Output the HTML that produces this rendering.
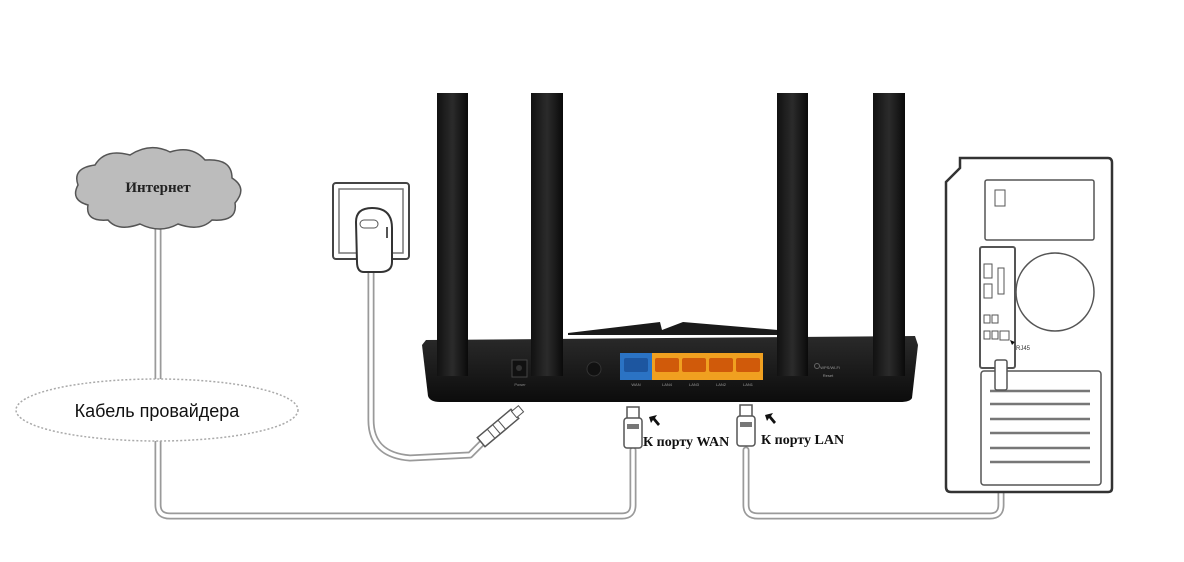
<!DOCTYPE html>
<html><head><meta charset="utf-8"><style>
html,body{margin:0;padding:0;background:#fff;width:1184px;height:562px;overflow:hidden}
</style></head><body>
<svg width="1184" height="562" viewBox="0 0 1184 562" xmlns="http://www.w3.org/2000/svg">
<defs>
<linearGradient id="rb" x1="0" y1="0" x2="0" y2="1"><stop offset="0" stop-color="#2a2a2a"/><stop offset="1" stop-color="#0c0c0c"/></linearGradient>
<linearGradient id="ant" x1="0" y1="0" x2="1" y2="0"><stop offset="0" stop-color="#111"/><stop offset="0.5" stop-color="#2b2b2b"/><stop offset="1" stop-color="#0a0a0a"/></linearGradient>
</defs>
<!-- cables (gray outer, white inner) -->
<g fill="none" stroke-linecap="round" stroke-linejoin="round">
<g stroke="#9a9a9a" stroke-width="7">
<path d="M158 222 V378"/>
<path d="M158 442 V505 Q158 516 170 516 H622 Q633 516 633 505 V450"/>
<path d="M746 450 V505 Q746 516 758 516 H990 Q1001 516 1001 505 V380"/>
<path d="M371 272 V420 Q371 455 410 458 L470 455 L485 440"/>
</g>
<g stroke="#fff" stroke-width="3.5">
<path d="M158 222 V378"/>
<path d="M158 442 V505 Q158 516 170 516 H622 Q633 516 633 505 V450"/>
<path d="M746 450 V505 Q746 516 758 516 H990 Q1001 516 1001 505 V380"/>
<path d="M371 272 V420 Q371 455 410 458 L470 455 L485 440"/>
</g>
</g>
<!-- cloud -->
<path d="M88 205 Q70 200 78 185 Q72 168 95 165 Q105 148 130 155 Q150 142 170 152 Q192 145 205 160 Q232 158 232 178 Q248 188 235 203 Q238 222 212 220 Q200 232 178 224 Q160 234 140 224 Q118 232 108 220 Q85 222 88 205 Z" fill="#bcbcbc" stroke="#555" stroke-width="1.5"/>
<text x="158" y="192" font-family="Liberation Serif, serif" font-weight="bold" font-size="15" text-anchor="middle" fill="#222">Интернет</text>
<!-- dotted ellipse -->
<ellipse cx="157" cy="410" rx="141" ry="31" fill="#fff" stroke="#aaa" stroke-width="1.5" stroke-dasharray="2 2"/>
<text x="157" y="417" font-family="Liberation Sans, sans-serif" font-size="18" text-anchor="middle" fill="#111">Кабель провайдера</text>
<!-- outlet -->
<rect x="333" y="183" width="76" height="76" rx="3" fill="#fff" stroke="#444" stroke-width="2"/>
<rect x="339" y="189" width="64" height="64" fill="#fff" stroke="#777" stroke-width="1.5"/>
<path d="M356 222 Q356 208 372 208 Q392 208 392 228 V262 Q392 272 380 272 H364 Q357 272 357 262 Z" fill="#fff" stroke="#333" stroke-width="2"/>
<rect x="360" y="220" width="18" height="8" rx="4" fill="none" stroke="#555"/>
<path d="M387 227 V238" stroke="#555" stroke-width="2"/>
<!-- power plug -->
<g transform="translate(498 428) rotate(50)">
<rect x="-6" y="-22" width="12" height="44" fill="#fff" stroke="#555" stroke-width="1.5"/>
<path d="M-6 -5 H6 M-6 2 H6 M-6 9 H6" stroke="#555"/>
<rect x="-4" y="-30" width="8" height="9" fill="#fff" stroke="#555"/>
</g>
<!-- router antennas -->
<rect x="437" y="93" width="31" height="280" fill="url(#ant)"/>
<rect x="531" y="93" width="32" height="280" fill="url(#ant)"/>
<rect x="777" y="93" width="31" height="280" fill="url(#ant)"/>
<rect x="873" y="93" width="32" height="280" fill="url(#ant)"/>
<!-- router body -->
<path d="M568 333 L660 322 L662 330 L683 322 L778 330 L778 335 L568 335 Z" fill="#1a1a1a"/>
<path d="M426 340 L915 336 L918 345 L912 398 Q910 402 900 402 H440 Q430 402 428 396 L422 345 Z" fill="url(#rb)"/>
<rect x="437" y="320" width="31" height="56" fill="url(#ant)"/>
<rect x="531" y="320" width="32" height="56" fill="url(#ant)"/>
<rect x="777" y="320" width="31" height="56" fill="url(#ant)"/>
<rect x="873" y="320" width="32" height="56" fill="url(#ant)"/>
<rect x="512" y="360" width="15" height="17" fill="#111" stroke="#444"/>
<circle cx="519" cy="368" r="3" fill="#333"/>
<text x="520" y="386" font-size="4" fill="#888" text-anchor="middle" font-family="Liberation Sans">Power</text>
<circle cx="594" cy="369" r="7" fill="#111" stroke="#333"/>
<rect x="620" y="353" width="32" height="27" fill="#2b73c4"/>
<rect x="652" y="353" width="111" height="27" fill="#f0a020"/>
<g fill="#d05a0a">
<rect x="655" y="358" width="24" height="14" rx="2"/>
<rect x="682" y="358" width="24" height="14" rx="2"/>
<rect x="709" y="358" width="24" height="14" rx="2"/>
<rect x="736" y="358" width="24" height="14" rx="2"/>
</g>
<rect x="624" y="358" width="24" height="14" rx="2" fill="#1d56a0"/>
<g font-size="4" fill="#999" text-anchor="middle" font-family="Liberation Sans">
<text x="636" y="386">WAN</text><text x="667" y="386">LAN4</text><text x="694" y="386">LAN3</text><text x="721" y="386">LAN2</text><text x="748" y="386">LAN1</text>
<text x="830" y="369">WPS/Wi-Fi</text><text x="828" y="377">Reset</text>
</g>
<circle cx="817" cy="366" r="2.5" fill="none" stroke="#666"/>
<!-- ethernet plugs -->
<g fill="#fff" stroke="#555" stroke-width="1.5">
<rect x="627" y="407" width="12" height="12"/>
<rect x="624" y="418" width="18" height="30" rx="3"/>
<rect x="740" y="405" width="12" height="12"/>
<rect x="737" y="416" width="18" height="30" rx="3"/>
</g>
<rect x="627" y="424" width="12" height="5" fill="#777"/>
<rect x="740" y="422" width="12" height="5" fill="#777"/>
<path d="M649 417 l8 -2 -2 3 5 6 -2 2 -5 -6 -2 3 z" fill="#111"/>
<path d="M765 415 l8 -2 -2 3 5 6 -2 2 -5 -6 -2 3 z" fill="#111"/>
<g font-family="Liberation Serif, serif" font-weight="bold" font-size="14" fill="#111">
<text x="643" y="446">К порту WAN</text>
<text x="761" y="444">К порту LAN</text>
</g>
<!-- computer -->
<path d="M960 158 H1108 Q1112 158 1112 163 V488 Q1112 492 1108 492 H951 Q946 492 946 487 V182 L960 168 Z" fill="#fff" stroke="#333" stroke-width="2.5"/>
<path d="M960 168 V158" stroke="#333" stroke-width="2"/>
<rect x="985" y="180" width="109" height="60" rx="2" fill="none" stroke="#555" stroke-width="1.5"/>
<rect x="995" y="190" width="10" height="16" fill="none" stroke="#555"/>
<rect x="980" y="247" width="35" height="121" rx="2" fill="none" stroke="#555" stroke-width="2"/>
<circle cx="1055" cy="292" r="39" fill="none" stroke="#555" stroke-width="1.5"/>
<rect x="984" y="264" width="8" height="14" fill="none" stroke="#555"/>
<rect x="984" y="284" width="8" height="14" fill="none" stroke="#555"/>
<rect x="998" y="268" width="6" height="26" fill="none" stroke="#555"/>
<rect x="984" y="315" width="6" height="8" fill="none" stroke="#555"/>
<rect x="992" y="315" width="6" height="8" fill="none" stroke="#555"/>
<rect x="984" y="331" width="6" height="8" fill="none" stroke="#555"/>
<rect x="992" y="331" width="6" height="8" fill="none" stroke="#555"/>
<rect x="1000" y="331" width="9" height="9" fill="none" stroke="#555"/>
<rect x="981" y="371" width="120" height="114" rx="3" fill="none" stroke="#555" stroke-width="1.5"/>
<g stroke="#777" stroke-width="2.5">
<path d="M990 391 H1090 M990 404 H1090 M990 419 H1090 M990 433 H1090 M990 448 H1090 M990 462 H1090"/>
</g>
<rect x="995" y="360" width="12" height="30" rx="2" fill="#fff" stroke="#555" stroke-width="1.5"/>
<path d="M1015 342 l-5 -2 2 5 z" fill="#111"/>
<text x="1016" y="350" font-size="6" fill="#333" font-family="Liberation Sans">RJ45</text>
</svg>
</body></html>
